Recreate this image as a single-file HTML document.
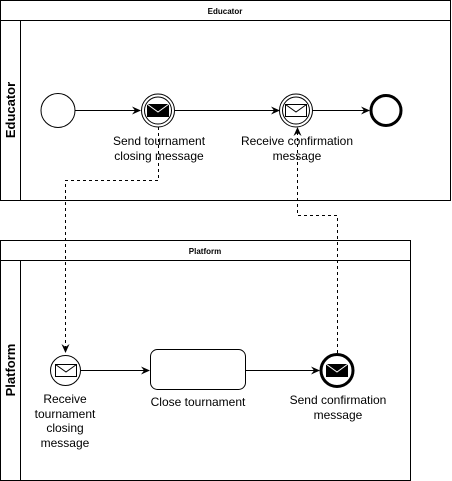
<!DOCTYPE html>
<html><head><style>body{margin:0;background:#fff}svg{display:block}</style></head><body>
<svg width="452" height="481" xmlns="http://www.w3.org/2000/svg" font-family="Liberation Sans, sans-serif">
<defs>
<marker id="a" markerWidth="10" markerHeight="10" refX="8" refY="5" orient="auto" markerUnits="userSpaceOnUse"><path d="M0,1 L9,5 L0,9 L3,5 Z" fill="#000"/></marker>
</defs>
<!-- Educator pool -->
<rect x="0.5" y="0.5" width="450" height="200" fill="#fff" stroke="#000"/>
<line x1="0.5" y1="20.5" x2="450.5" y2="20.5" stroke="#000"/>
<line x1="20.5" y1="20.5" x2="20.5" y2="200.5" stroke="#000"/>
<text x="225" y="14" font-size="8" font-weight="bold" text-anchor="middle">Educator</text>
<text transform="translate(15,110) rotate(-90)" font-size="13" font-weight="bold" text-anchor="middle">Educator</text>
<!-- Platform pool -->
<rect x="0.5" y="240.5" width="410" height="240" fill="#fff" stroke="#000"/>
<line x1="0.5" y1="260.5" x2="410.5" y2="260.5" stroke="#000"/>
<line x1="20.5" y1="260.5" x2="20.5" y2="480.5" stroke="#000"/>
<text x="205" y="254" font-size="8" font-weight="bold" text-anchor="middle">Platform</text>
<text transform="translate(15,370) rotate(-90)" font-size="13" font-weight="bold" text-anchor="middle">Platform</text>
<!-- flows top -->
<line x1="75" y1="110.5" x2="140" y2="110.5" stroke="#000" marker-end="url(#a)"/>
<line x1="175" y1="110.5" x2="279" y2="110.5" stroke="#000" marker-end="url(#a)"/>
<line x1="312" y1="110.5" x2="369" y2="110.5" stroke="#000" marker-end="url(#a)"/>
<circle cx="58" cy="110.5" r="17" fill="#fff" stroke="#000"/>
<circle cx="158" cy="110.5" r="16.5" fill="#fff" stroke="#000"/>
<circle cx="158" cy="110.5" r="13.5" fill="#fff" stroke="#000"/>
<rect x="147" y="104" width="22" height="13" fill="#000"/>
<path d="M147,104 L158,112 L169,104" fill="none" stroke="#fff"/>
<circle cx="296" cy="110.5" r="16.5" fill="#fff" stroke="#000"/>
<circle cx="296" cy="110.5" r="13.5" fill="#fff" stroke="#000"/>
<rect x="285.5" y="104.5" width="21" height="12" fill="#fff" stroke="#000"/>
<path d="M285.5,104.5 L296,112 L306.5,104.5" fill="none" stroke="#000"/>
<circle cx="386" cy="110.5" r="15" fill="#fff" stroke="#000" stroke-width="3"/>
<g font-size="12" text-anchor="middle">
<text x="159" y="145">Send tournament</text>
<text x="159" y="160">closing message</text>
<text x="297" y="145">Receive confirmation</text>
<text x="297" y="160">message</text>
</g>
<!-- message flows -->
<path d="M158.5,127 V180.5 H65.5 V352" fill="none" stroke="#000" stroke-dasharray="3,3" marker-end="url(#a)"/>
<path d="M337.5,353 V215.5 H297.5 V128" fill="none" stroke="#000" stroke-dasharray="3,3" marker-end="url(#a)"/>
<!-- bottom -->
<line x1="81" y1="370.5" x2="149" y2="370.5" stroke="#000" marker-end="url(#a)"/>
<line x1="246" y1="370.5" x2="319" y2="370.5" stroke="#000" marker-end="url(#a)"/>
<circle cx="65.5" cy="370.5" r="15" fill="#fff" stroke="#000"/>
<rect x="55.5" y="364.5" width="21" height="12" fill="#fff" stroke="#000"/>
<path d="M55.5,364.5 L66,372 L76.5,364.5" fill="none" stroke="#000"/>
<rect x="150.5" y="349.5" width="95" height="40" rx="7" fill="#fff" stroke="#000"/>
<circle cx="337" cy="370.5" r="16" fill="#fff" stroke="#000" stroke-width="3"/>
<rect x="326" y="364" width="22" height="13" fill="#000"/>
<path d="M326,364 L337,372 L348,364" fill="none" stroke="#fff"/>
<g font-size="12" text-anchor="middle">
<text x="65" y="162" display="none"></text>
<text x="65" y="403">Receive</text>
<text x="65" y="418">tournament</text>
<text x="65" y="432">closing</text>
<text x="65" y="447">message</text>
<text x="198" y="406">Close tournament</text>
<text x="338" y="404">Send confirmation</text>
<text x="338" y="419">message</text>
</g>
</svg>
</body></html>
